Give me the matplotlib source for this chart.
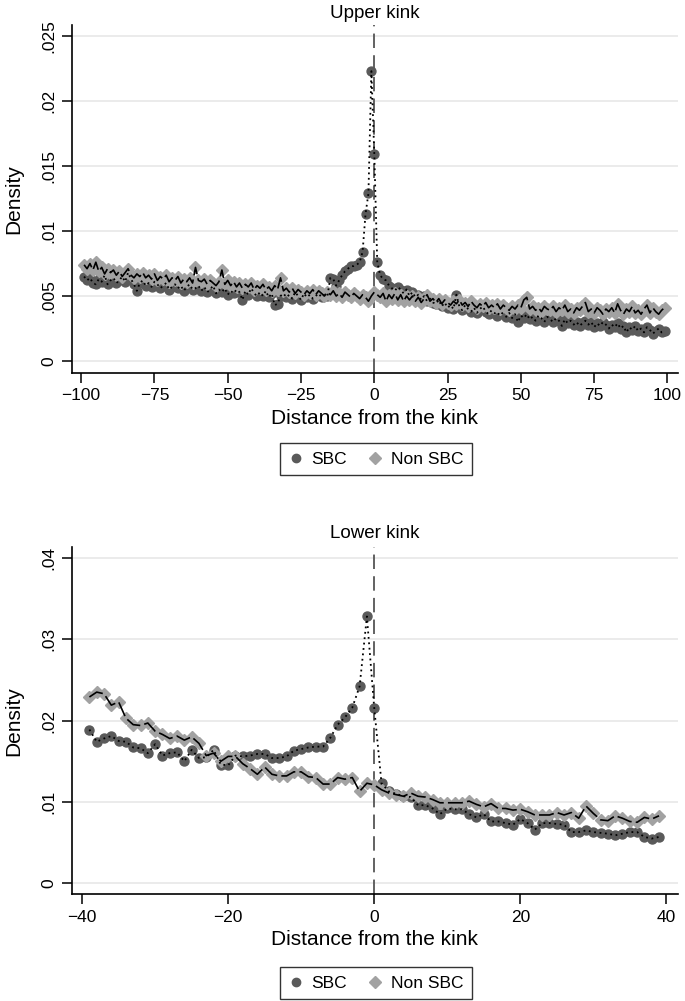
import numpy as np
import matplotlib
matplotlib.use("Agg")
import matplotlib.pyplot as plt
from matplotlib.lines import Line2D
from matplotlib.ticker import FuncFormatter

plt.rcParams['font.family'] = ['Liberation Sans', 'DejaVu Sans']

# ---------------- data ----------------
upper_x = list(range(-99, 100))
upper_sbc = [
    0.0065, 0.0062, 0.0064, 0.0060, 0.0059, 0.0063, 0.0061, 0.0066, 0.0059, 0.0062,
    0.0064, 0.0060, 0.0062, 0.0065, 0.0061, 0.0068, 0.0063, 0.0059, 0.0054, 0.0060,
    0.0062, 0.0058, 0.0060, 0.0057, 0.0061, 0.0059, 0.0056, 0.0058, 0.0060, 0.0055,
    0.0057, 0.0059, 0.0056, 0.0058, 0.0054, 0.0057, 0.0059, 0.0055, 0.0056, 0.0058,
    0.0054, 0.0057, 0.0053, 0.0055, 0.0058, 0.0052, 0.0055, 0.0053, 0.0056, 0.0051,
    0.0054, 0.0052, 0.0055, 0.0053, 0.0047, 0.0054, 0.0051, 0.0056, 0.0052, 0.0050,
    0.0053, 0.0050, 0.0054, 0.0049, 0.0052, 0.0043, 0.0044, 0.0050, 0.0052, 0.0049,
    0.0051, 0.0048, 0.0053, 0.0050, 0.0047, 0.0052, 0.0049, 0.0051, 0.0048, 0.0050,
    0.0052, 0.0049, 0.0051, 0.0050, 0.0064, 0.0063, 0.0058, 0.0062, 0.0066, 0.0069,
    0.0071, 0.0073, 0.0073, 0.0074, 0.0076, 0.0084, 0.0113, 0.0129, 0.0223, 0.0159,
    0.0076, 0.0066, 0.0063, 0.0062, 0.0058, 0.0056, 0.0054, 0.0057, 0.0055, 0.0052,
    0.0055, 0.0050, 0.0053, 0.0049, 0.0051, 0.0047, 0.0050, 0.0046, 0.0048, 0.0045,
    0.0044, 0.0047, 0.0042, 0.0045, 0.0041, 0.0043, 0.0040, 0.0051, 0.0042, 0.0039,
    0.0043, 0.0040, 0.0038, 0.0041, 0.0037, 0.0040, 0.0042, 0.0038, 0.0036, 0.0039,
    0.0037, 0.0035, 0.0038, 0.0036, 0.0034, 0.0037, 0.0033, 0.0036, 0.0030, 0.0035,
    0.0033, 0.0036, 0.0032, 0.0034, 0.0031, 0.0035, 0.0033, 0.0030, 0.0034, 0.0032,
    0.0030, 0.0033, 0.0031, 0.0027, 0.0032, 0.0029, 0.0031, 0.0028, 0.0030, 0.0027,
    0.0029, 0.0031, 0.0028, 0.0030, 0.0026, 0.0029, 0.0027, 0.0030, 0.0028, 0.0025,
    0.0028, 0.0026, 0.0029, 0.0025, 0.0027, 0.0022, 0.0026, 0.0024, 0.0027, 0.0023,
    0.0025, 0.0022, 0.0026, 0.0024, 0.0021, 0.0023, 0.0025, 0.0022, 0.0023,
]
upper_non = [
    0.0074, 0.0071, 0.0075, 0.0070, 0.0076, 0.0069, 0.0072, 0.0067, 0.0071, 0.0068,
    0.0070, 0.0066, 0.0069, 0.0065, 0.0068, 0.0071, 0.0066, 0.0064, 0.0067, 0.0065,
    0.0068, 0.0064, 0.0066, 0.0063, 0.0067, 0.0062, 0.0065, 0.0063, 0.0066, 0.0061,
    0.0064, 0.0062, 0.0065, 0.0060, 0.0063, 0.0061, 0.0064, 0.0060, 0.0072, 0.0062,
    0.0061, 0.0063, 0.0059, 0.0062, 0.0060, 0.0058, 0.0061, 0.0070, 0.0059, 0.0062,
    0.0058, 0.0061, 0.0057, 0.0060, 0.0056, 0.0059, 0.0057, 0.0060, 0.0055, 0.0058,
    0.0056, 0.0059, 0.0055, 0.0057, 0.0054, 0.0058, 0.0055, 0.0064, 0.0054, 0.0056,
    0.0053, 0.0056, 0.0052, 0.0055, 0.0053, 0.0051, 0.0054, 0.0052, 0.0055, 0.0051,
    0.0054, 0.0052, 0.0050, 0.0053, 0.0051, 0.0054, 0.0050, 0.0052, 0.0049, 0.0053,
    0.0051, 0.0049, 0.0052, 0.0050, 0.0048, 0.0051, 0.0049, 0.0046, 0.0050, 0.0053,
    0.0051, 0.0049, 0.0052, 0.0046, 0.0051, 0.0048, 0.0052, 0.0047, 0.0051, 0.0046,
    0.0050, 0.0047, 0.0050, 0.0046, 0.0049, 0.0045, 0.0048, 0.0051, 0.0046, 0.0048,
    0.0045, 0.0048, 0.0044, 0.0047, 0.0045, 0.0043, 0.0046, 0.0044, 0.0047, 0.0043,
    0.0045, 0.0042, 0.0046, 0.0043, 0.0041, 0.0044, 0.0042, 0.0045, 0.0041, 0.0043,
    0.0041, 0.0044, 0.0040, 0.0043, 0.0041, 0.0039, 0.0042, 0.0040, 0.0043, 0.0041,
    0.0047, 0.0049, 0.0040, 0.0042, 0.0039, 0.0041, 0.0038, 0.0042, 0.0040, 0.0039,
    0.0042, 0.0038, 0.0041, 0.0039, 0.0043, 0.0038, 0.0040, 0.0037, 0.0041, 0.0039,
    0.0042, 0.0045, 0.0038, 0.0040, 0.0037, 0.0041, 0.0039, 0.0036, 0.0040, 0.0038,
    0.0041, 0.0037, 0.0044, 0.0039, 0.0036, 0.0040, 0.0038, 0.0042, 0.0037, 0.0039,
    0.0036, 0.0040, 0.0043, 0.0037, 0.0041, 0.0038, 0.0036, 0.0039, 0.0041,
]

lower_x = list(range(-39, 40))
lower_sbc = [
    0.0189, 0.0174, 0.0178, 0.0181, 0.0175, 0.0174, 0.0167, 0.0166, 0.0160, 0.0171,
    0.0157, 0.0160, 0.0161, 0.0150, 0.0164, 0.0154, 0.0155, 0.0164, 0.0146, 0.0145,
    0.0157, 0.0156, 0.0157, 0.0159, 0.0159, 0.0154, 0.0154, 0.0156, 0.0163, 0.0165,
    0.0167, 0.0168, 0.0168, 0.0179, 0.0195, 0.0204, 0.0216, 0.0242, 0.0328, 0.0216,
    0.0123, 0.0113, 0.0110, 0.0107, 0.0106, 0.0096, 0.0096, 0.0092, 0.0085, 0.0092,
    0.0091, 0.0091, 0.0085, 0.0081, 0.0085, 0.0076, 0.0076, 0.0074, 0.0072, 0.0079,
    0.0074, 0.0066, 0.0074, 0.0074, 0.0073, 0.0072, 0.0063, 0.0063, 0.0065, 0.0063,
    0.0062, 0.0061, 0.0059, 0.0061, 0.0063, 0.0063, 0.0057, 0.0055, 0.0057,
]
lower_non = [
    0.0229, 0.0235, 0.0233, 0.0219, 0.0223, 0.0203, 0.0195, 0.0194, 0.0197, 0.0187,
    0.0183, 0.0178, 0.0181, 0.0176, 0.0180, 0.0172, 0.0157, 0.0160, 0.0150, 0.0156,
    0.0156, 0.0147, 0.0141, 0.0134, 0.0143, 0.0134, 0.0132, 0.0132, 0.0137, 0.0137,
    0.0131, 0.0130, 0.0122, 0.0122, 0.0130, 0.0128, 0.0130, 0.0113, 0.0123, 0.0121,
    0.0115, 0.0111, 0.0109, 0.0107, 0.0111, 0.0107, 0.0106, 0.0103, 0.0099, 0.0099,
    0.0099, 0.0099, 0.0101, 0.0097, 0.0094, 0.0098, 0.0092, 0.0092, 0.0090, 0.0091,
    0.0088, 0.0084, 0.0084, 0.0084, 0.0087, 0.0084, 0.0087, 0.0080, 0.0095, 0.0086,
    0.0078, 0.0077, 0.0083, 0.0080, 0.0076, 0.0075, 0.0081, 0.0079, 0.0083,
]

upper_xticks = [-100, -75, -50, -25, 0, 25, 50, 75, 100]
upper_yticks = [0, 0.005, 0.01, 0.015, 0.02, 0.025]
lower_xticks = [-40, -20, 0, 20, 40]
lower_yticks = [0, 0.01, 0.02, 0.03, 0.04]
series_names = ["SBC", "Non SBC"]

# ---------------- style ----------------
C_SBC = "#5a5a5a"
C_NON = "#a2a2a2"
W, H = 685, 1001
fig = plt.figure(figsize=(W / 100, H / 100), dpi=100)


def yfmt(v, pos):
    if abs(v) < 1e-12:
        return "0"
    s = ("%.3f" % v).rstrip("0")
    return s[1:] if s.startswith("0") else s


def panel(top_px, bot_px, xs, sbc, non, xticks, yticks, xlim, ylim, title, leg_y_px, ms, tpad):
    left_px, right_px = 71.5, 678
    ax = fig.add_axes([left_px / W, 1 - bot_px / H, (right_px - left_px) / W, (bot_px - top_px) / H])
    ax.set_xlim(*xlim)
    ax.set_ylim(*ylim)
    for y in yticks:
        ax.axhline(y, color="#e8e8e8", lw=1.2, zorder=0)
    ax.axvline(0, color="#555555", lw=1.3, dashes=(8, 4), zorder=1)
    ax.plot(xs, sbc, ls="none", marker="o", ms=ms, color=C_SBC, mec=C_SBC, zorder=2)
    ax.plot(xs, non, ls="none", marker="D", ms=ms * 0.95, color=C_NON, mec=C_NON, zorder=3)
    ax.plot(xs, sbc, color="black", lw=1.3, ls=(0, (1, 2)), zorder=4)
    ax.plot(xs, non, color="black", lw=1.2, ls=(0, (9, 2.5)), zorder=5)
    for s in ["top", "right"]:
        ax.spines[s].set_visible(False)
    for s in ["left", "bottom"]:
        ax.spines[s].set_linewidth(1.2)
    ax.set_xticks(xticks)
    ax.set_yticks(yticks)
    ax.yaxis.set_major_formatter(FuncFormatter(yfmt))
    ax.tick_params(axis="both", direction="out", length=7, width=1.1, labelsize=12.5, pad=4)
    for lab in ax.get_yticklabels():
        lab.set_rotation(90)
        lab.set_va("center")
    ax.set_xlabel("Distance from the kink", fontsize=15, labelpad=4)
    ax.set_ylabel("Density", fontsize=15, labelpad=13)
    ax.set_title(title, fontsize=13.5, pad=tpad)
    handles = [
        Line2D([], [], ls="none", marker="o", ms=6, color=C_SBC),
        Line2D([], [], ls="none", marker="D", ms=6, color=C_NON),
    ]
    leg = fig.legend(handles, series_names, loc="center", bbox_to_anchor=(376 / W, 1 - leg_y_px / H),
                     ncol=2, frameon=True, fancybox=False, edgecolor="black", fontsize=12.5,
                     handlelength=0.8, handletextpad=0.5, columnspacing=1.2, borderpad=0.5)
    leg.get_frame().set_linewidth(1.0)
    return ax


panel(25, 372.7, upper_x, upper_sbc, upper_non, upper_xticks, upper_yticks,
      (-103.3, 103.6), (-0.0009, 0.02585), "Upper kink", 459, 6.4, 5)
panel(547.3, 894.3, lower_x, lower_sbc, lower_non, lower_xticks, lower_yticks,
      (-41.45, 41.6), (-0.00135, 0.0413), "Lower kink", 983, 6.5, 7)

fig.savefig("out.png", dpi=100)
